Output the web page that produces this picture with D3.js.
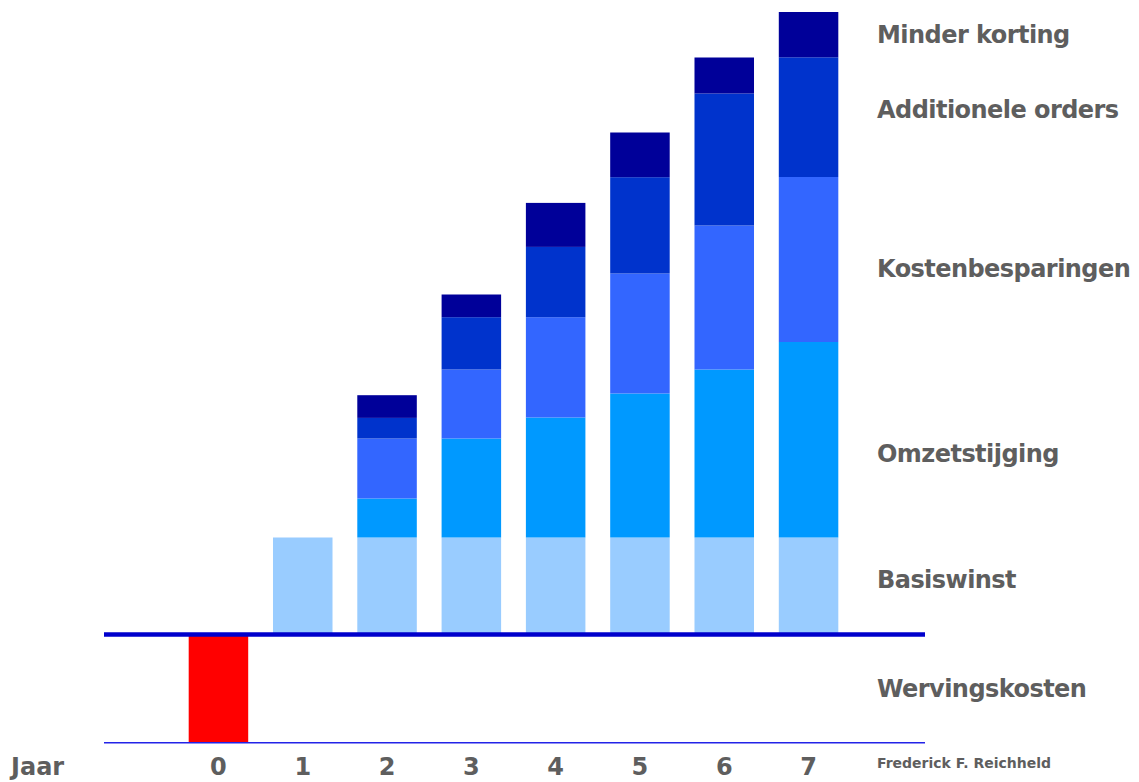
<!DOCTYPE html>
<html>
<head>
<meta charset="utf-8">
<script src="https://cdn.jsdelivr.net/npm/d3@7"></script>
<style>
  html, body { margin: 0; padding: 0; background: #ffffff; }
  svg { display: block; }
</style>
</head>
<body>
<svg id="chart" width="1139" height="782"></svg>
<script>
// ---- Data (heights, arbitrary units) ----
const years = ["0", "1", "2", "3", "4", "5", "6", "7"];
const seriesNames = ["Basiswinst", "Omzetstijging", "Kostenbesparingen", "Additionele orders", "Minder korting"];
const basiswinst       = [0, 9.7, 9.7, 9.7, 9.7, 9.7, 9.7, 9.7];
const omzetstijging    = [0, 0, 3.9, 9.9, 12.0, 14.4, 16.8, 19.55];
const kostenbesparing  = [0, 0, 6.0, 6.9, 10.03, 12.0, 14.4, 16.5];
const additioneel      = [0, 0, 2.06, 5.23, 7.03, 9.63, 13.2, 11.97];
const minderKorting    = [0, 0, 2.27, 2.27, 4.4, 4.47, 3.6, 4.53];
const wervingskosten   = [-10.82, 0, 0, 0, 0, 0, 0, 0];
const negativeName = "Wervingskosten";
const xAxisTitle = "Jaar";
const sourceNote = "Frederick F. Reichheld";

// ---- Styles ----
const colors = ["#99CCFF", "#0099FF", "#3366FF", "#0033CC", "#000099"];
const negColor = "#FF0000";
const textColor = "#5e5e5e";
const fontFamily = "'DejaVu Sans', Verdana, sans-serif";

const svg = d3.select("#chart");

// Scales
const x = d3.scaleBand()
  .domain(years)
  .range([176.3, 850.7])
  .paddingInner(0.294)
  .paddingOuter(0.147);

const y = d3.scaleLinear()
  .domain([0, 60])
  .range([634.5, 34.5]);

// Build stacked data
const rows = years.map((yr, i) => ({
  year: yr,
  [seriesNames[0]]: basiswinst[i],
  [seriesNames[1]]: omzetstijging[i],
  [seriesNames[2]]: kostenbesparing[i],
  [seriesNames[3]]: additioneel[i],
  [seriesNames[4]]: minderKorting[i]
}));
const stacked = d3.stack().keys(seriesNames)(rows);

// Positive stacked bars
svg.append("g")
  .selectAll("g")
  .data(stacked)
  .join("g")
  .attr("fill", (d, i) => colors[i])
  .selectAll("rect")
  .data(d => d.filter(s => s[1] - s[0] > 0))
  .join("rect")
  .attr("x", d => x(d.data.year))
  .attr("width", x.bandwidth())
  .attr("y", d => y(d[1]))
  .attr("height", d => y(d[0]) - y(d[1]));

// Negative bar (Wervingskosten)
svg.append("g")
  .selectAll("rect")
  .data(years.map((yr, i) => ({ year: yr, v: wervingskosten[i] })).filter(d => d.v < 0))
  .join("rect")
  .attr("x", d => x(d.year))
  .attr("width", x.bandwidth())
  .attr("y", y(0))
  .attr("height", d => y(d.v) - y(0))
  .attr("fill", negColor);

// Zero line (thick) and bottom line (thin)
const lineX0 = 104, lineX1 = 925;
svg.append("line")
  .attr("x1", lineX0).attr("x2", lineX1)
  .attr("y1", y(0)).attr("y2", y(0))
  .attr("stroke", "#0000CC").attr("stroke-width", 4.5);

const minVal = d3.min(wervingskosten);
svg.append("line")
  .attr("x1", lineX0).attr("x2", lineX1)
  .attr("y1", y(minVal)).attr("y2", y(minVal))
  .attr("stroke", "#2323E8").attr("stroke-width", 1.5);

// X axis (year labels)
const xAxis = d3.axisBottom(x).tickSize(0).tickPadding(0);
const gx = svg.append("g")
  .attr("transform", `translate(0, 756)`)
  .call(xAxis);
gx.select(".domain").remove();
gx.selectAll("text")
  .attr("dy", "0.8em")
  .attr("font-family", fontFamily)
  .attr("font-weight", "bold")
  .attr("font-size", 24)
  .attr("fill", textColor);

// Axis title
svg.append("text")
  .attr("x", 11).attr("y", 775)
  .attr("font-family", fontFamily)
  .attr("font-weight", "bold")
  .attr("font-size", 24)
  .attr("fill", textColor)
  .text(xAxisTitle);

// Series labels on the right
const labelNames = ["Minder korting", "Additionele orders", "Kostenbesparingen", "Omzetstijging", "Basiswinst", negativeName];
const labelBaselines = [43, 118, 277, 462, 588, 697];
svg.append("g")
  .selectAll("text")
  .data(labelNames)
  .join("text")
  .attr("x", 877)
  .attr("y", (d, i) => labelBaselines[i])
  .attr("font-family", fontFamily)
  .attr("font-weight", "bold")
  .attr("font-size", 24)
  .attr("letter-spacing", -0.55)
  .attr("fill", textColor)
  .text(d => d);

// Source note
svg.append("text")
  .attr("x", 877).attr("y", 768)
  .attr("font-family", fontFamily)
  .attr("font-weight", "bold")
  .attr("font-size", 14)
  .attr("fill", textColor)
  .text(sourceNote);
</script>
</body>
</html>
